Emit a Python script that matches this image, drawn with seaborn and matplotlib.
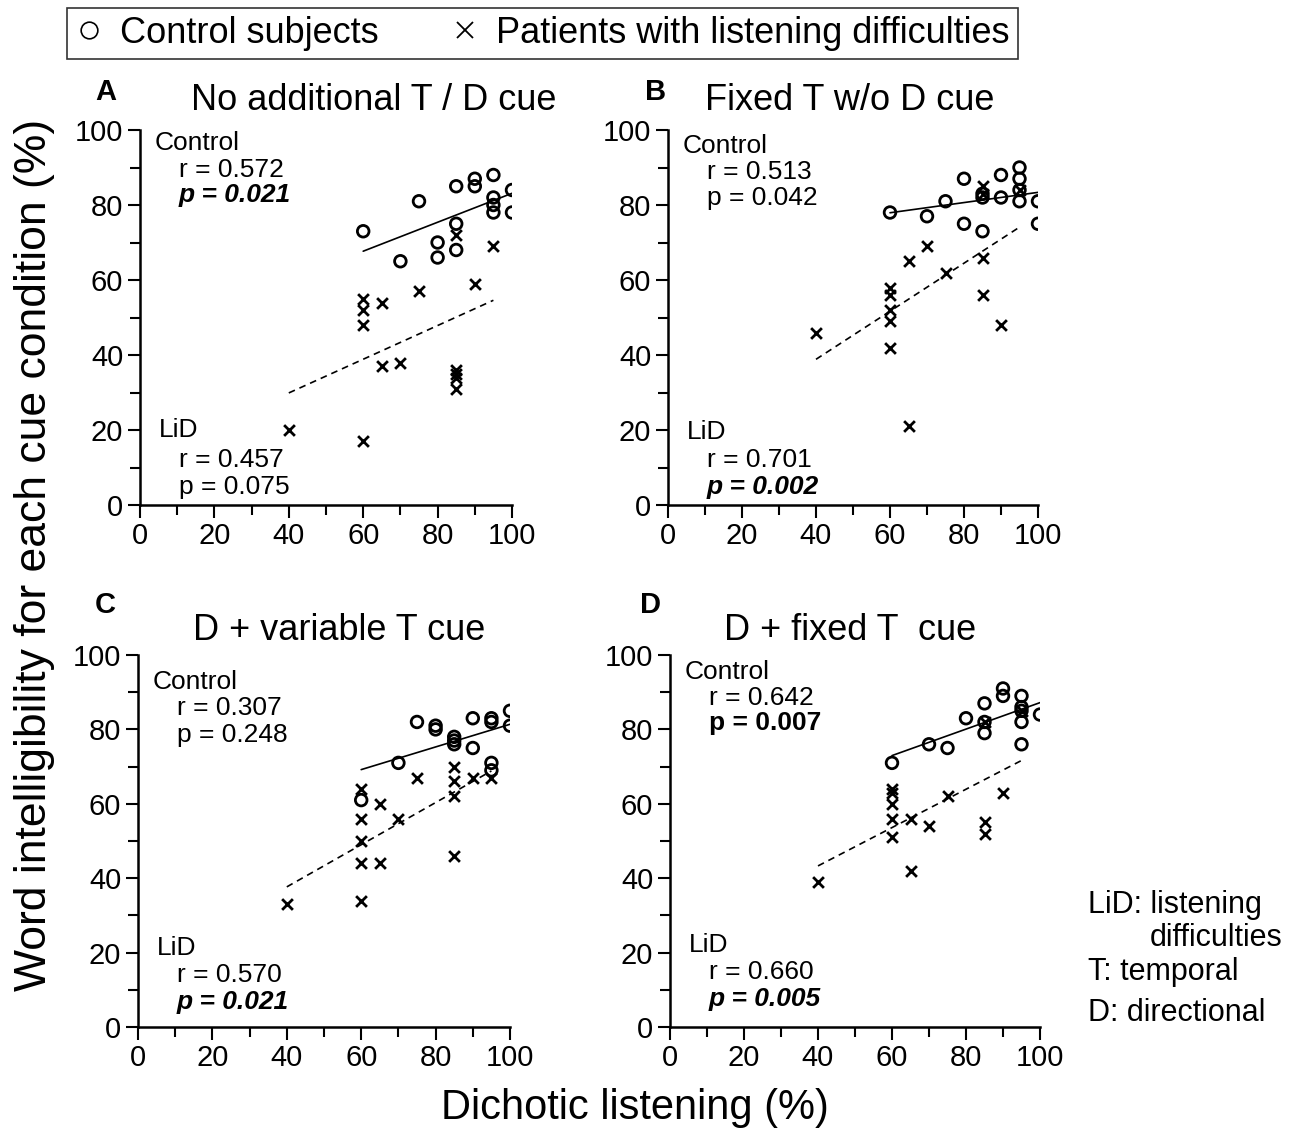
import matplotlib
matplotlib.use("Agg")
import matplotlib.pyplot as plt
from matplotlib.lines import Line2D
from matplotlib.ticker import MultipleLocator
import seaborn as sns
import pandas as pd

sns.set_style("ticks")
plt.rcParams["font.family"] = ["Liberation Sans", "DejaVu Sans"]
plt.rcParams["text.color"] = "black"
plt.rcParams["axes.labelcolor"] = "black"

# Panel A: no additional T / D cue
ctrl_x_A = [60, 70, 75, 80, 80, 85, 85, 85, 90, 90, 95, 95, 95, 95, 100, 100]
ctrl_y_A = [73, 65, 81, 70, 66, 85, 75, 68, 87, 85, 88, 82, 80, 78, 84, 78]
lid_x_A = [40, 60, 60, 60, 60, 65, 65, 70, 75, 85, 85, 85, 85, 85, 90, 95]
lid_y_A = [20, 17, 48, 52, 55, 54, 37, 38, 57, 36, 35, 34, 31, 72, 59, 69]

# Panel B: fixed T w/o D cue
ctrl_x_B = [60, 70, 75, 80, 80, 85, 85, 85, 90, 90, 95, 95, 95, 95, 100, 100]
ctrl_y_B = [78, 77, 81, 87, 75, 83, 82, 73, 88, 82, 90, 87, 84, 81, 81, 75]
lid_x_B = [40, 60, 60, 60, 60, 60, 65, 65, 70, 75, 85, 85, 85, 85, 90, 95]
lid_y_B = [46, 58, 56, 52, 49, 42, 65, 21, 69, 62, 85, 83, 66, 56, 48, 84]

# Panel C: D + variable T cue
ctrl_x_C = [60, 70, 75, 80, 80, 85, 85, 85, 90, 90, 95, 95, 95, 95, 100, 100]
ctrl_y_C = [61, 71, 82, 81, 80, 78, 77, 76, 83, 75, 83, 82, 71, 69, 85, 81]
lid_x_C = [40, 60, 60, 60, 60, 60, 65, 65, 70, 75, 85, 85, 85, 85, 90, 95]
lid_y_C = [33, 64, 56, 50, 44, 34, 60, 44, 56, 67, 70, 66, 62, 46, 67, 67]

# Panel D: D + fixed T cue
ctrl_x_D = [60, 70, 75, 80, 85, 85, 85, 90, 90, 95, 95, 95, 95, 95, 100]
ctrl_y_D = [71, 76, 75, 83, 87, 82, 79, 91, 89, 89, 86, 85, 82, 76, 84]
lid_x_D = [40, 60, 60, 60, 60, 60, 65, 65, 70, 75, 85, 85, 85, 90, 95]
lid_y_D = [39, 64, 63, 60, 56, 51, 56, 42, 54, 62, 82, 55, 52, 63, 85]

letters = ["A", "B", "C", "D"]
titles = ["No additional T / D cue", "Fixed T w/o D cue",
          "D + variable T cue", "D + fixed T  cue"]
ctrl_r = ["r = 0.572", "r = 0.513", "r = 0.307", "r = 0.642"]
ctrl_p = ["p = 0.021", "p = 0.042", "p = 0.248", "p = 0.007"]
lid_r = ["r = 0.457", "r = 0.701", "r = 0.570", "r = 0.660"]
lid_p = ["p = 0.075", "p = 0.002", "p = 0.021", "p = 0.005"]
# (weight, style) of the p-value text
ctrl_p_font = [("bold", "italic"), ("normal", "normal"), ("normal", "normal"), ("bold", "normal")]
lid_p_font = [("normal", "normal"), ("bold", "italic"), ("bold", "italic"), ("bold", "italic")]

panels = [
    (ctrl_x_A, ctrl_y_A, lid_x_A, lid_y_A),
    (ctrl_x_B, ctrl_y_B, lid_x_B, lid_y_B),
    (ctrl_x_C, ctrl_y_C, lid_x_C, lid_y_C),
    (ctrl_x_D, ctrl_y_D, lid_x_D, lid_y_D),
]

W, H = 1300, 1140
fig = plt.figure(figsize=(W / 100, H / 100), dpi=100)

# axes boxes in pixels: left, y of 0, x-width, y-height
boxes = [(140, 505, 372, 375), (668, 505, 370, 375),
         (138, 1027, 372, 372), (670, 1027, 370, 372)]
# text y positions (data units): control, r, p, LiD, r, p
text_y = [(96.5, 89.3, 82.7, 20, 12, 4.8), (95.7, 88.8, 81.9, 19.5, 12, 4.8),
          (92.7, 85.8, 78.5, 21.2, 14, 6.7), (95.4, 88.4, 81.7, 22, 14.8, 7.5)]
title_pos = [(0.627, 1.08), (0.49, 1.08), (0.54, 1.067), (0.486, 1.067)]
letter_pos = [(-0.12, 1.10), (-0.062, 1.10), (-0.116, 1.134), (-0.081, 1.134)]

for i, (cx, cy, lx, ly) in enumerate(panels):
    left, y0, w, h = boxes[i]
    ax = fig.add_axes([left / W, (H - y0) / H, w / W, h / H])
    ctrl = pd.DataFrame({"x": cx, "y": cy})
    lid = pd.DataFrame({"x": lx, "y": ly})

    sns.scatterplot(data=ctrl, x="x", y="y", ax=ax, marker="o", s=70,
                    facecolors="none", edgecolor="black", linewidth=2, zorder=3)
    sns.scatterplot(data=lid, x="x", y="y", ax=ax, marker="x", s=60,
                    color="black", linewidth=2, zorder=3)
    sns.regplot(data=ctrl, x="x", y="y", ax=ax, scatter=False, ci=None,
                truncate=True, color="black", line_kws=dict(lw=1.2))
    sns.regplot(data=lid, x="x", y="y", ax=ax, scatter=False, ci=None,
                truncate=True, color="black",
                line_kws=dict(lw=1.2, ls=(0, (4, 3))))

    ax.set_xlim(0, 100)
    ax.set_ylim(0, 100)
    ax.set_xlabel("")
    ax.set_ylabel("")
    ax.xaxis.set_major_locator(MultipleLocator(20))
    ax.xaxis.set_minor_locator(MultipleLocator(10))
    ax.yaxis.set_major_locator(MultipleLocator(20))
    ax.yaxis.set_minor_locator(MultipleLocator(10))
    ax.tick_params(which="both", direction="out", width=1.5, labelsize=21,
                   colors="black", labelcolor="black")
    ax.tick_params(which="major", length=9, pad=3)
    ax.tick_params(which="minor", length=7)
    sns.despine(ax=ax)
    for sp in ("left", "bottom"):
        ax.spines[sp].set_linewidth(1.8)
        ax.spines[sp].set_color("black")
    ax.patch.set_alpha(0)

    ty = text_y[i]
    ax.text(4, ty[0], "Control", fontsize=19, va="center")
    ax.text(10.5, ty[1], ctrl_r[i], fontsize=19, va="center")
    ax.text(10.5, ty[2], ctrl_p[i], fontsize=19, va="center",
            fontweight=ctrl_p_font[i][0], fontstyle=ctrl_p_font[i][1])
    ax.text(5, ty[3], "LiD", fontsize=19, va="center")
    ax.text(10.5, ty[4], lid_r[i], fontsize=19, va="center")
    ax.text(10.5, ty[5], lid_p[i], fontsize=19, va="center",
            fontweight=lid_p_font[i][0], fontstyle=lid_p_font[i][1])

    # panel letter and title
    ax.text(*letter_pos[i], letters[i], transform=ax.transAxes, fontsize=21,
            fontweight="bold", va="center")
    ax.text(*title_pos[i], titles[i], transform=ax.transAxes, fontsize=26,
            ha="center", va="center")

fig.text(35 / W, 1 - 555 / H, "Word intelligibility for each cue condition (%)",
         rotation=90, fontsize=32, ha="center", va="center")
fig.text(635 / W, 1 - 1108 / H, "Dichotic listening (%)", fontsize=30,
         ha="center", va="center")

fig.text(1088 / W, 1 - 905 / H, "LiD: listening", fontsize=22, va="center")
fig.text(1150 / W, 1 - 938 / H, "difficulties", fontsize=22, va="center")
fig.text(1088 / W, 1 - 972 / H, "T: temporal", fontsize=22, va="center")
fig.text(1088 / W, 1 - 1013 / H, "D: directional", fontsize=22, va="center")

handles = [
    Line2D([], [], ls="none", marker="o", markersize=12, markerfacecolor="none",
           markeredgecolor="black", markeredgewidth=1.2),
    Line2D([], [], ls="none", marker="x", markersize=11, color="black",
           markeredgewidth=1.3),
]
leg = fig.legend(handles, ["Control subjects", "Patients with listening difficulties"],
                 loc="upper left", bbox_to_anchor=(67 / W, 1 - 8 / H), ncol=2,
                 fontsize=26, frameon=True, fancybox=False, edgecolor="black",
                 handlelength=0.8, handletextpad=0.45, columnspacing=2.0,
                 borderpad=0.22, borderaxespad=0, labelcolor="black")
leg.get_frame().set_linewidth(1.2)

fig.savefig("out.png", dpi=100, facecolor="white")
